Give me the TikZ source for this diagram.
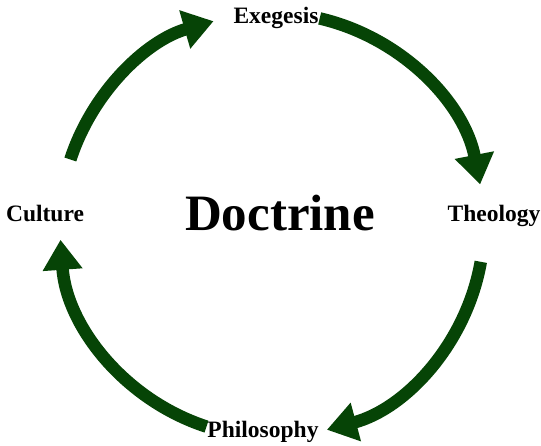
\documentclass[tikz,border=0pt]{standalone}
\usepackage{fontspec}
\setmainfont{Liberation Serif}
\usetikzlibrary{arrows.meta}
\definecolor{cycgreen}{RGB}{6,68,6}
\begin{document}
\begin{tikzpicture}[x=1pt,y=1pt,
  cyc/.style={draw=cycgreen,line width=12.5pt,-{Triangle[length=30pt,width=38pt]}},
  lbl/.style={font=\bfseries\fontsize{23.5}{26}\selectfont,inner sep=0pt}]
\useasboundingbox (0,0) rectangle (541,446);
\coordinate (c) at (272,221);
\def\R{212}
\node[font=\bfseries\fontsize{51}{56}\selectfont,inner sep=0pt] (doc) at (280,233) {Doctrine};
\node[lbl] (exe) at (276,428) {Exegesis};
\node[lbl] (the) at (494,230) {Theology};
\node[lbl] (phi) at (263,14) {Philosophy};
\node[lbl] (cul) at (45,233) {Culture};
\draw[cyc] ([shift={(162:\R)}]c) arc[start angle=162,end angle=106,radius=\R];
\draw[cyc] ([shift={(77:\R)}]c) arc[start angle=77,end angle=11,radius=\R];
\draw[cyc] ([shift={(-10:\R)}]c) arc[start angle=-10,end angle=-75,radius=\R];
\draw[cyc] ([shift={(-108:\R)}]c) arc[start angle=-108,end angle=-176,radius=\R];
\end{tikzpicture}
\end{document}
